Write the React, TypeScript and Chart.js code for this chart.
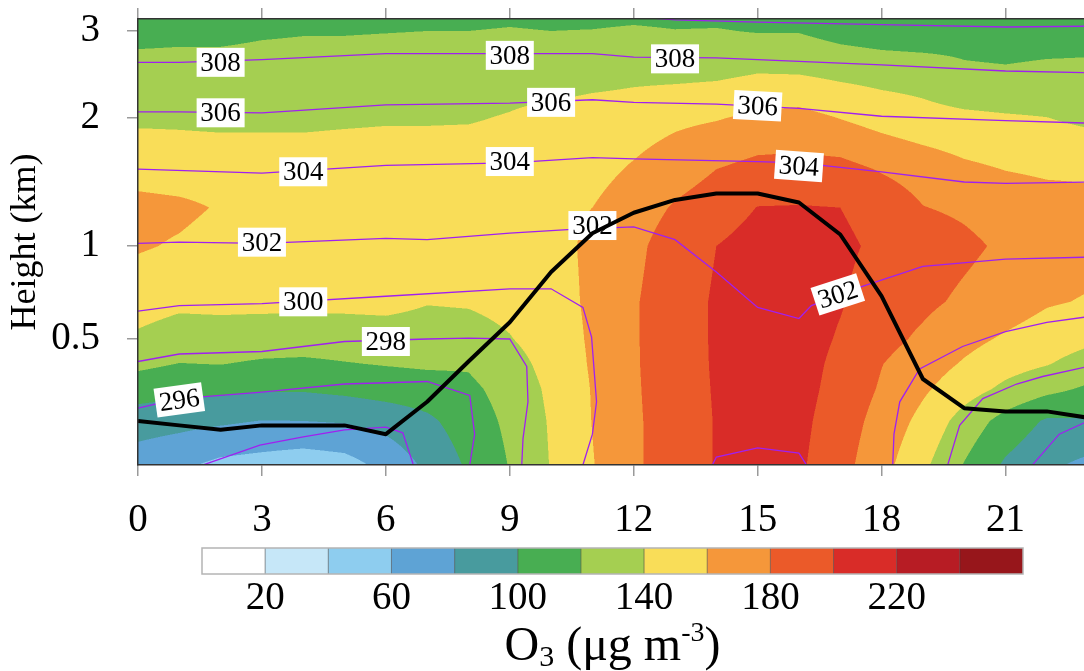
import React, { useEffect, useRef } from 'react';
import { Chart, LinearScale, registerables } from 'chart.js';

Chart.register(...registerables);

const FONT = '"Liberation Serif", "Times New Roman", serif';
const PURPLE = '#a020f0';

// ---------- axes ----------
const HOURS = [0, 1, 2, 3, 4, 5, 6, 7, 8, 9, 10, 11, 12, 13, 14, 15, 16, 17, 18, 19, 20, 21, 22, 23];
const X_TICKS = [0, 3, 6, 9, 12, 15, 18, 21];
const Y_TICKS = [0.5, 1, 2, 3];
// non-uniform (model-level) vertical axis: height in km -> fraction of axis height
const AXIS_KM = [0.1, 0.2, 0.3, 0.5, 1, 2, 3, 3.15];
const AXIS_FRACTION = [0, 0.0987, 0.1704, 0.2825, 0.491, 0.778, 0.9731, 1];

// ---------- O3 field (µg m-3) ----------
const LEVELS_KM = [0.1, 0.2, 0.3, 0.4, 0.5, 0.7, 1.0, 1.3, 1.6, 2.0, 2.5, 3.0, 3.15];
const O3_GRID = [
  /* 0.10 km */ [70, 64, 55, 52, 48, 52, 66, 84, 103, 121, 141, 159, 177, 190, 201, 209, 203, 187, 167, 144.4, 119, 97, 84, 75],
  /* 0.20 km */ [89, 86, 83, 79.5, 80, 81.6, 86.7, 96, 110, 124, 142, 160.5, 177, 190, 201, 210, 205, 190, 172.8, 154.5, 132, 112.7, 97.5, 98],
  /* 0.30 km */ [110, 106, 104.5, 102, 102, 105, 109, 111.4, 116, 127, 144, 161, 177.5, 191, 201.5, 211, 207, 193, 177.9, 163, 148.7, 135.7, 125.3, 117],
  /* 0.40 km */ [124, 119.5, 120.4, 117.5, 116.5, 119, 121, 122.7, 122, 132, 147, 162, 178, 191, 202, 212, 208, 195, 180.5, 169.6, 158, 147.5, 141, 131.8],
  /* 0.50 km */ [137, 131, 131, 129.5, 129, 129.4, 130, 130.3, 131.4, 139, 150, 162.5, 178, 192, 202, 212, 209, 198, 186, 176.7, 166, 157.4, 149.8, 144],
  /* 0.70 km */ [148, 144, 145, 145, 145, 145, 146, 141, 142, 146, 153, 163, 178, 192, 202, 212, 210, 201.5, 190, 184, 176.7, 170.5, 162, 158.5],
  /* 1.00 km */ [162, 158, 153, 153, 153, 154, 155, 153, 153, 153, 155, 163, 175, 190, 200, 208, 208, 204, 196, 190, 183.8, 177, 170, 167],
  /* 1.30 km */ [166, 164, 158.5, 157, 157, 158, 158, 158, 158, 158, 157, 160, 170, 182, 190, 200.5, 201, 200, 192, 180.5, 177, 172, 168, 165],
  /* 1.60 km */ [152, 150, 150, 150, 150, 151, 151, 151, 152, 152, 155, 154, 162, 171, 180, 186, 186.6, 186.3, 178.5, 172, 164, 159.5, 157, 157],
  /* 2.00 km */ [137, 137, 136, 136, 136, 137, 138, 138, 138.3, 141.5, 147, 150, 150.7, 155.8, 158.7, 164, 166.7, 159.5, 152.3, 146.5, 144, 142, 140.3, 135.9],
  /* 2.50 km */ [127, 127, 127, 127.5, 127.5, 128, 128.7, 129, 129, 131, 129, 132.6, 135.6, 135.5, 136.7, 140.5, 140, 136, 133.2, 132, 124, 123, 125, 125],
  /* 3.00 km */ [115, 116, 116, 118, 119, 119, 119.5, 120, 120, 121, 120, 120.5, 122, 120.5, 121, 119, 119, 113, 109.8, 108, 112, 110, 111, 112.5],
  /* 3.15 km */ [112, 113, 113, 114, 115, 116, 116, 117, 117, 118, 117, 117, 118, 117, 117, 116, 116, 110, 107, 106, 110, 108, 109, 111],
];
const O3_STEP = 20;
const O3_COLORS = [
  '#ffffff', '#c6e7f8', '#8ecdef', '#5ea3d5', '#489b9e', '#48ae52', '#a5cf51',
  '#f9dd58', '#f5973a', '#eb5a29', '#d92c28', '#b71c24', '#97161b',
];
const CBAR_LABELS = [20, 60, 100, 140, 180, 220];

// ---------- boundary-layer height (km) ----------
const PBL_KM = [0.2, 0.19, 0.18, 0.19, 0.19, 0.19, 0.17, 0.26, 0.41, 0.59, 0.86, 1.1, 1.26, 1.36, 1.41, 1.41, 1.34, 1.09, 0.73, 0.34, 0.24, 0.23, 0.23, 0.21];

// ---------- potential temperature isolines (hour, km) ----------
const THETA_310 = [[12.2, 3.17], [13, 3.14], [15, 3.11], [18, 3.08], [21, 3.05], [23, 3.06]];
const THETA_308 = [[0, 2.64], [1, 2.64], [3, 2.67], [6, 2.74], [9, 2.74], [11, 2.74], [12, 2.7], [14, 2.69], [15, 2.67], [18, 2.61], [21, 2.54], [23, 2.52]];
const THETA_306 = [[0, 2.07], [1, 2.07], [3, 2.06], [6, 2.15], [9, 2.17], [11, 2.21], [12, 2.18], [14, 2.16], [16, 2.11], [18, 2.02], [21, 1.98], [23, 1.96]];
const THETA_304 = [[0, 1.6], [3, 1.57], [6, 1.63], [9, 1.65], [11, 1.69], [12, 1.68], [15, 1.66], [16, 1.65], [18, 1.58], [20, 1.5], [21, 1.49], [23, 1.5]];
const THETA_302 = [[0, 1.02], [1, 1.03], [3, 1.02], [6, 1.06], [7, 1.05], [9, 1.1], [10.5, 1.13], [12, 1.15], [13, 1.05], [14, 0.86], [15, 0.67], [16, 0.61], [16.3, 0.68], [17.5, 0.78], [19, 0.89], [21, 0.93], [23, 0.94]];
const THETA_302_SFC = [[13.85, 0.09], [14, 0.118], [15, 0.139], [16, 0.127], [16.25, 0.09]];
const THETA_300_WEST = [[0, 0.65], [1, 0.68], [3, 0.69], [6, 0.73], [9, 0.77], [10, 0.77], [10.77, 0.67], [10.98, 0.51], [11.1, 0.26], [11.0, 0.17], [10.77, 0.1], [10.7, 0.08]];
const THETA_300_EAST = [[18.27, 0.08], [18.27, 0.1], [18.3, 0.17], [18.44, 0.26], [18.92, 0.38], [19.96, 0.47], [21, 0.54], [22, 0.59], [23, 0.62]];
const THETA_298_WEST = [[0, 0.41], [1, 0.44], [3, 0.45], [5, 0.49], [7, 0.5], [8, 0.505], [9, 0.5], [9.41, 0.39], [9.44, 0.26], [9.32, 0.16], [9.29, 0.1], [9.28, 0.08]];
const THETA_298_EAST = [[19.6, 0.08], [19.6, 0.1], [19.89, 0.19], [20.45, 0.27], [21.27, 0.32], [21.9, 0.35], [23, 0.39]];
const THETA_296_WEST = [[0, 0.24], [1, 0.27], [3, 0.29], [5, 0.32], [7, 0.33], [8.03, 0.28], [8.15, 0.17], [8.03, 0.1], [8, 0.08]];
const THETA_296_EAST = [[21.6, 0.08], [21.65, 0.1], [22.3, 0.17], [23, 0.2]];
const THETA_294 = [[1.5, 0.08], [1.57, 0.1], [2.95, 0.145], [4, 0.164], [5, 0.18], [6, 0.186], [6.41, 0.173], [6.65, 0.105], [6.7, 0.08]];

const THETA_LINES: [number, number[][]][] = [
  [310, THETA_310], [308, THETA_308], [306, THETA_306], [304, THETA_304],
  [302, THETA_302], [302, THETA_302_SFC], [300, THETA_300_WEST], [300, THETA_300_EAST],
  [298, THETA_298_WEST], [298, THETA_298_EAST], [296, THETA_296_WEST], [296, THETA_296_EAST],
  [294, THETA_294],
];

// label text, hour, km, rotation (deg)
const THETA_LABELS: [string, number, number, number][] = [
  ['308', 2, 2.64, 0], ['308', 9, 2.72, 0], ['308', 13, 2.68, 0],
  ['306', 2, 2.06, 0], ['306', 10, 2.18, 0], ['306', 15, 2.14, 3],
  ['304', 4, 1.58, 0], ['304', 9, 1.66, 0], ['304', 16, 1.625, 4],
  ['302', 3, 1.03, 0], ['302', 11, 1.16, 0], ['302', 16.94, 0.74, -18],
  ['300', 4, 0.7, 0], ['298', 6, 0.49, 0], ['296', 1, 0.266, -8],
];

function interp(xs: number[], ys: number[], v: number): number {
  const n = xs.length;
  let i = 0;
  if (v >= xs[n - 1]) i = n - 2;
  else if (v > xs[0]) {
    while (i < n - 2 && v > xs[i + 1]) i++;
  }
  const t = (v - xs[i]) / (xs[i + 1] - xs[i]);
  return ys[i] + t * (ys[i + 1] - ys[i]);
}

class LevelScale extends LinearScale {
  static id = 'level';
  getPixelForValue(value: number) {
    const f = interp(AXIS_KM, AXIS_FRACTION, value);
    return this.bottom - f * (this.bottom - this.top);
  }
  getValueForPixel(pixel: number) {
    const f = (this.bottom - pixel) / (this.bottom - this.top);
    return interp(AXIS_FRACTION, AXIS_KM, f);
  }
}
Chart.register(LevelScale);

const hexToRgb = (h: string) => [parseInt(h.slice(1, 3), 16), parseInt(h.slice(3, 5), 16), parseInt(h.slice(5, 7), 16)];
const clamp01 = (v: number) => (v < 0 ? 0 : v > 1 ? 1 : v);

const fillPlugin = {
  id: 'o3Fill',
  beforeDatasetsDraw(chart: any) {
    const { ctx, chartArea: a, scales } = chart;
    const SS = 2;
    const w = Math.ceil(a.right - a.left);
    const h = Math.ceil(a.bottom - a.top);
    const W = w * SS;
    const H = h * SS;
    const colPx = HOURS.map((v) => (scales.x.getPixelForValue(v) - a.left) * SS);
    const rowPx = LEVELS_KM.map((v) => (scales.y.getPixelForValue(v) - a.top) * SS);
    const rgb = O3_COLORS.map(hexToRgb);
    const off = document.createElement('canvas');
    off.width = W;
    off.height = H;
    const octx = off.getContext('2d')!;
    const img = octx.createImageData(W, H);
    const d = img.data;
    const cIdx = new Int32Array(W);
    const cT = new Float32Array(W);
    for (let px = 0; px < W; px++) {
      const xc = px + 0.5;
      let c = 0;
      while (c < colPx.length - 2 && colPx[c + 1] < xc) c++;
      cIdx[px] = c;
      cT[px] = clamp01((xc - colPx[c]) / (colPx[c + 1] - colPx[c]));
    }
    const nL = rgb.length;
    for (let py = 0; py < H; py++) {
      const yc = py + 0.5;
      let r = 0;
      while (r < rowPx.length - 2 && rowPx[r + 1] > yc) r++;
      const ty = clamp01((rowPx[r] - yc) / (rowPx[r] - rowPx[r + 1]));
      const g0 = O3_GRID[r];
      const g1 = O3_GRID[r + 1];
      for (let px = 0; px < W; px++) {
        const c = cIdx[px];
        const tx = cT[px];
        const v0 = g0[c] + tx * (g0[c + 1] - g0[c]);
        const v1 = g1[c] + tx * (g1[c + 1] - g1[c]);
        const v = v0 + ty * (v1 - v0);
        let k = Math.floor(v / O3_STEP);
        if (k < 0) k = 0;
        if (k > nL - 1) k = nL - 1;
        const col = rgb[k];
        const o = (py * W + px) * 4;
        d[o] = col[0];
        d[o + 1] = col[1];
        d[o + 2] = col[2];
        d[o + 3] = 255;
      }
    }
    octx.putImageData(img, 0, 0);
    ctx.save();
    ctx.imageSmoothingEnabled = true;
    ctx.imageSmoothingQuality = 'high';
    ctx.drawImage(off, a.left, a.top, w, h);
    ctx.restore();
  },
};

const labelPlugin = {
  id: 'thetaLabels',
  afterDatasetDraw(chart: any, args: any) {
    if (args.index !== 1) return;
    const { ctx, chartArea: a, scales } = chart;
    ctx.save();
    ctx.beginPath();
    ctx.rect(a.left, a.top, a.right - a.left, a.bottom - a.top);
    ctx.clip();
    ctx.font = `27px ${FONT}`;
    ctx.textAlign = 'center';
    ctx.textBaseline = 'middle';
    for (const [text, hour, km, angle] of THETA_LABELS) {
      const x = scales.x.getPixelForValue(hour);
      const y = scales.y.getPixelForValue(km);
      ctx.save();
      ctx.translate(x, y);
      ctx.rotate((angle * Math.PI) / 180);
      ctx.fillStyle = '#ffffff';
      ctx.fillRect(-24, -14.5, 48, 29);
      ctx.fillStyle = '#000000';
      ctx.fillText(text, 0, 1.5);
      ctx.restore();
    }
    ctx.restore();
  },
};

const colorbarPlugin = {
  id: 'colorbar',
  afterDraw(chart: any) {
    const ctx = chart.ctx;
    const left = 202;
    const right = 1023;
    const top = 548;
    const height = 26;
    const bw = (right - left) / O3_COLORS.length;
    ctx.save();
    O3_COLORS.forEach((c, i) => {
      ctx.fillStyle = c;
      ctx.fillRect(left + i * bw, top, bw, height);
    });
    ctx.strokeStyle = 'rgba(60,60,60,0.55)';
    ctx.lineWidth = 1;
    for (let i = 1; i < O3_COLORS.length; i++) {
      ctx.beginPath();
      ctx.moveTo(left + i * bw, top);
      ctx.lineTo(left + i * bw, top + height);
      ctx.stroke();
    }
    ctx.strokeStyle = '#b4b4b4';
    ctx.lineWidth = 1.5;
    ctx.strokeRect(left, top, right - left, height);

    ctx.fillStyle = '#000';
    ctx.font = `39px ${FONT}`;
    ctx.textAlign = 'center';
    ctx.textBaseline = 'middle';
    CBAR_LABELS.forEach((v) => ctx.fillText(String(v), left + (v / O3_STEP) * bw, 599));

    // title: O3 (µg m-3)
    const parts = [
      { t: 'O', size: 48, dy: 0 },
      { t: '3', size: 30, dy: 6 },
      { t: ' (\u03bcg m', size: 48, dy: 0 },
      { t: '-3', size: 28, dy: -19 },
      { t: ')', size: 48, dy: 0 },
    ];
    ctx.textAlign = 'left';
    ctx.textBaseline = 'alphabetic';
    let total = 0;
    const widths = parts.map((p) => {
      ctx.font = `${p.size}px ${FONT}`;
      const wd = ctx.measureText(p.t).width;
      total += wd;
      return wd;
    });
    let x = (left + right) / 2 - total / 2;
    const base = 660;
    parts.forEach((p, i) => {
      ctx.font = `${p.size}px ${FONT}`;
      ctx.fillText(p.t, x, base + p.dy);
      x += widths[i];
    });
    ctx.restore();
  },
};

const zeroPad = (s: any) => {
  s.paddingTop = 0;
  s.paddingBottom = 0;
  s.paddingLeft = 0;
  s.paddingRight = 0;
};

export default function App() {
  const ref = useRef<HTMLCanvasElement>(null);
  useEffect(() => {
    const canvas = ref.current!;
    const datasets: any[] = [
      {
        label: 'PBL height',
        data: HOURS.map((hr, i) => ({ x: hr, y: PBL_KM[i] })),
        borderColor: '#000000',
        borderWidth: 4,
        pointRadius: 0,
        borderJoinStyle: 'round',
        xAxisID: 'x',
        yAxisID: 'y',
      },
      ...THETA_LINES.map(([theta, pts]) => ({
        label: `\u03b8 ${theta} K`,
        data: pts.map(([hx, km]) => ({ x: hx, y: km })),
        borderColor: PURPLE,
        borderWidth: 1.3,
        pointRadius: 0,
        xAxisID: 'x',
        yAxisID: 'y',
      })),
    ];
    const tickColor = '#9a9a9a';
    const chart = new Chart(canvas, {
      type: 'line',
      data: { datasets },
      options: {
        responsive: false,
        animation: false,
        events: [],
        layout: { padding: 0 },
        plugins: { legend: { display: false }, tooltip: { enabled: false } },
        scales: {
          x: {
            type: 'linear',
            position: 'bottom',
            min: 0,
            max: 22.9,
            afterBuildTicks: (s: any) => {
              s.ticks = X_TICKS.map((v) => ({ value: v }));
            },
            afterFit: (s: any) => {
              s.height = 206;
              zeroPad(s);
            },
            ticks: {
              autoSkip: false,
              maxRotation: 0,
              padding: 21,
              color: '#000',
              font: { family: FONT, size: 39 },
              callback: (v: any) => String(v),
            },
            grid: { drawOnChartArea: false, tickLength: 11, color: tickColor, lineWidth: 1.5 },
            border: { display: true, color: '#333', width: 1.5, z: 1 },
          },
          xTop: {
            type: 'linear',
            position: 'top',
            min: 0,
            max: 22.9,
            afterBuildTicks: (s: any) => {
              s.ticks = X_TICKS.map((v) => ({ value: v }));
            },
            afterFit: (s: any) => {
              s.height = 19;
              zeroPad(s);
            },
            ticks: { display: false },
            grid: { drawOnChartArea: false, tickLength: 11, color: tickColor, lineWidth: 1.5 },
            border: { display: true, color: '#333', width: 1.5, z: 1 },
          },
          y: {
            type: 'level' as any,
            position: 'left',
            min: 0.1,
            max: 3.15,
            afterBuildTicks: (s: any) => {
              s.ticks = Y_TICKS.map((v) => ({ value: v }));
            },
            afterFit: (s: any) => {
              s.width = 138;
              zeroPad(s);
            },
            ticks: {
              autoSkip: false,
              padding: 27,
              color: '#000',
              font: { family: FONT, size: 39 },
              callback: (v: any) => String(v),
            },
            title: {
              display: true,
              text: 'Height (km)',
              color: '#000',
              font: { family: FONT, size: 36 },
              padding: { top: 4, bottom: 0 },
            },
            grid: { drawOnChartArea: false, tickLength: 11, color: tickColor, lineWidth: 1.5 },
            border: { display: true, color: '#333', width: 1.5, z: 1 },
          },
        },
      } as any,
      plugins: [fillPlugin, labelPlugin, colorbarPlugin],
    });
    return () => chart.destroy();
  }, []);
  return (
    <div style={{ position: 'fixed', left: 0, top: 0, width: 1084, height: 671, background: '#ffffff' }}>
      <canvas ref={ref} width={1084} height={671} style={{ display: 'block', width: 1084, height: 671 }} />
    </div>
  );
}
